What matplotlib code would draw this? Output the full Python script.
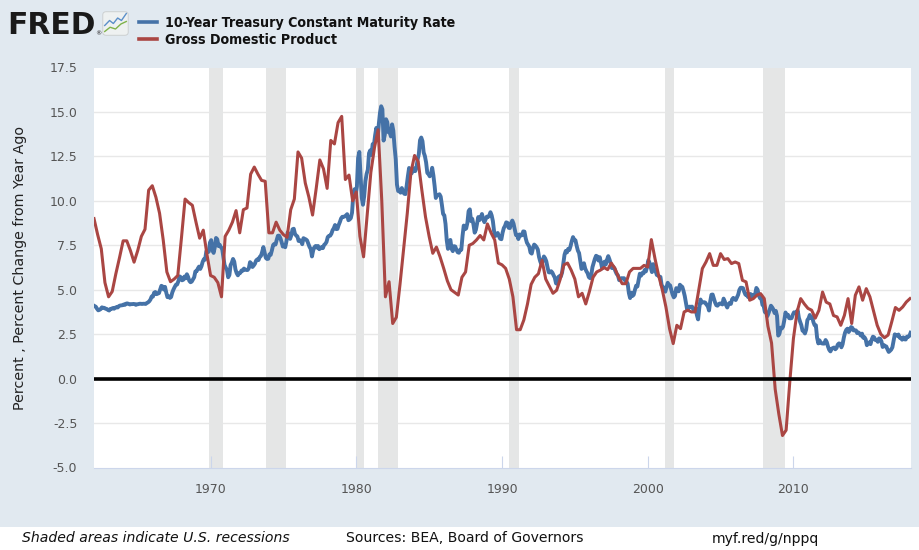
import numpy as np
import matplotlib
matplotlib.use("Agg")
import matplotlib.pyplot as plt
from matplotlib.lines import Line2D
from matplotlib.patches import Rectangle, FancyBboxPatch
from matplotlib.font_manager import FontProperties

# ---------------- data ----------------
# 10-Year Treasury Constant Maturity Rate, monthly, Jan 1962 - Jan 2018
dgs10 = [
    4.08, 4.04, 3.93, 3.84, 3.87, 3.91, 4.01, 3.98, 3.98, 3.93, 3.92, 3.86,   # 1962
    3.83, 3.92, 3.93, 3.97, 3.93, 3.99, 4.02, 4.00, 4.08, 4.11, 4.12, 4.13,   # 1963
    4.17, 4.15, 4.22, 4.23, 4.20, 4.17, 4.19, 4.19, 4.20, 4.19, 4.15, 4.18,   # 1964
    4.19, 4.21, 4.21, 4.20, 4.21, 4.21, 4.20, 4.25, 4.29, 4.35, 4.45, 4.62,   # 1965
    4.61, 4.83, 4.87, 4.75, 4.78, 4.81, 5.02, 5.22, 5.18, 5.01, 5.16, 4.84,   # 1966
    4.58, 4.63, 4.54, 4.59, 4.85, 5.02, 5.16, 5.28, 5.30, 5.48, 5.75, 5.70,   # 1967
    5.53, 5.56, 5.74, 5.64, 5.87, 5.72, 5.50, 5.42, 5.46, 5.58, 5.70, 6.03,   # 1968
    6.04, 6.19, 6.30, 6.17, 6.32, 6.57, 6.72, 6.69, 7.16, 7.10, 7.14, 7.65,   # 1969
    7.79, 7.24, 7.07, 7.39, 7.91, 7.84, 7.46, 7.53, 7.39, 7.33, 6.84, 6.39,   # 1970
    6.24, 6.11, 5.70, 5.83, 6.39, 6.52, 6.73, 6.58, 6.14, 5.93, 5.81, 5.93,   # 1971
    5.95, 6.08, 6.07, 6.19, 6.13, 6.11, 6.11, 6.21, 6.55, 6.48, 6.28, 6.36,   # 1972
    6.46, 6.64, 6.71, 6.67, 6.85, 6.90, 7.13, 7.40, 7.09, 6.79, 6.73, 6.74,   # 1973
    6.99, 6.96, 7.21, 7.51, 7.58, 7.54, 7.81, 8.04, 8.04, 7.90, 7.68, 7.43,   # 1974
    7.50, 7.39, 7.73, 8.23, 8.06, 7.86, 8.06, 8.40, 8.43, 8.14, 8.05, 8.00,   # 1975
    7.74, 7.79, 7.73, 7.56, 7.90, 7.86, 7.83, 7.77, 7.59, 7.41, 7.29, 6.87,   # 1976
    7.21, 7.39, 7.46, 7.37, 7.46, 7.28, 7.33, 7.40, 7.34, 7.52, 7.58, 7.69,   # 1977
    7.96, 8.03, 8.04, 8.15, 8.35, 8.46, 8.64, 8.41, 8.42, 8.64, 8.81, 9.01,   # 1978
    9.10, 9.10, 9.12, 9.18, 9.25, 8.91, 8.95, 9.03, 9.33, 10.30, 10.65, 10.39,  # 1979
    10.80, 12.41, 12.75, 11.47, 10.18, 9.78, 10.25, 11.10, 11.51, 11.75, 12.68, 12.84,  # 1980
    12.57, 13.19, 13.12, 13.68, 14.10, 13.47, 14.28, 14.94, 15.32, 15.15, 13.39, 13.72,  # 1981
    14.59, 14.43, 13.86, 13.87, 13.62, 14.30, 13.95, 13.06, 12.34, 10.91, 10.55, 10.54,  # 1982
    10.46, 10.72, 10.51, 10.40, 10.38, 10.85, 11.38, 11.85, 11.65, 11.54, 11.69, 11.83,  # 1983
    11.67, 11.84, 12.32, 12.63, 13.41, 13.56, 13.36, 12.72, 12.52, 12.16, 11.57, 11.50,  # 1984
    11.38, 11.51, 11.86, 11.43, 10.85, 10.16, 10.31, 10.33, 10.37, 10.24, 9.78, 9.26,    # 1985
    9.19, 8.70, 7.78, 7.30, 7.71, 7.80, 7.30, 7.17, 7.45, 7.43, 7.25, 7.11,   # 1986
    7.08, 7.25, 7.25, 8.02, 8.61, 8.40, 8.45, 8.76, 9.42, 9.52, 8.86, 8.99,   # 1987
    8.67, 8.21, 8.37, 8.72, 9.09, 8.92, 9.06, 9.26, 8.98, 8.80, 8.96, 9.11,   # 1988
    9.09, 9.17, 9.36, 9.18, 8.86, 8.28, 8.02, 8.11, 8.19, 8.01, 7.87, 7.84,   # 1989
    8.21, 8.47, 8.59, 8.79, 8.76, 8.48, 8.47, 8.75, 8.89, 8.72, 8.39, 8.08,   # 1990
    8.09, 7.85, 8.11, 8.04, 8.07, 8.28, 8.27, 7.90, 7.65, 7.53, 7.42, 7.09,   # 1991
    7.03, 7.34, 7.54, 7.48, 7.39, 7.26, 6.84, 6.59, 6.42, 6.59, 6.87, 6.77,   # 1992
    6.60, 6.26, 5.98, 5.97, 6.04, 5.96, 5.81, 5.68, 5.36, 5.33, 5.72, 5.77,   # 1993
    5.75, 5.97, 6.48, 6.97, 7.18, 7.10, 7.30, 7.24, 7.46, 7.74, 7.96, 7.81,   # 1994
    7.78, 7.47, 7.20, 7.06, 6.63, 6.17, 6.28, 6.49, 6.20, 6.04, 5.93, 5.71,   # 1995
    5.65, 5.81, 6.27, 6.51, 6.74, 6.91, 6.87, 6.64, 6.83, 6.53, 6.20, 6.30,   # 1996
    6.58, 6.42, 6.69, 6.89, 6.71, 6.49, 6.22, 6.30, 6.21, 6.03, 5.88, 5.81,   # 1997
    5.54, 5.57, 5.65, 5.64, 5.65, 5.50, 5.46, 5.34, 4.81, 4.53, 4.83, 4.65,   # 1998
    4.72, 5.00, 5.23, 5.18, 5.54, 5.90, 5.79, 5.94, 5.92, 6.11, 6.03, 6.28,   # 1999
    6.66, 6.52, 6.26, 5.99, 6.44, 6.10, 6.05, 5.83, 5.80, 5.74, 5.72, 5.24,   # 2000
    5.16, 5.10, 4.89, 5.14, 5.39, 5.28, 5.24, 4.97, 4.73, 4.57, 4.65, 5.09,   # 2001
    5.04, 4.91, 5.28, 5.21, 5.16, 4.93, 4.65, 4.26, 3.87, 3.94, 4.05, 4.03,   # 2002
    4.05, 3.90, 3.81, 3.96, 3.57, 3.33, 3.98, 4.45, 4.27, 4.29, 4.30, 4.27,   # 2003
    4.15, 4.08, 3.83, 4.35, 4.72, 4.73, 4.50, 4.28, 4.13, 4.10, 4.19, 4.23,   # 2004
    4.22, 4.17, 4.50, 4.34, 4.14, 4.00, 4.18, 4.26, 4.20, 4.46, 4.54, 4.47,   # 2005
    4.42, 4.57, 4.72, 4.99, 5.11, 5.11, 5.09, 4.88, 4.72, 4.73, 4.60, 4.56,   # 2006
    4.76, 4.72, 4.56, 4.69, 4.75, 5.10, 5.00, 4.67, 4.52, 4.53, 4.15, 4.10,   # 2007
    3.74, 3.74, 3.51, 3.68, 3.88, 4.10, 4.01, 3.89, 3.69, 3.81, 3.53, 2.42,   # 2008
    2.52, 2.87, 2.82, 2.93, 3.29, 3.72, 3.56, 3.59, 3.40, 3.39, 3.40, 3.59,   # 2009
    3.73, 3.69, 3.73, 3.85, 3.42, 3.20, 3.01, 2.70, 2.65, 2.54, 2.76, 3.29,   # 2010
    3.39, 3.58, 3.41, 3.46, 3.17, 3.00, 3.00, 2.30, 1.98, 2.15, 2.01, 1.98,   # 2011
    1.97, 1.97, 2.17, 2.05, 1.80, 1.62, 1.53, 1.68, 1.72, 1.75, 1.65, 1.72,   # 2012
    1.91, 1.98, 1.96, 1.76, 1.93, 2.30, 2.58, 2.74, 2.81, 2.62, 2.72, 2.90,   # 2013
    2.86, 2.71, 2.72, 2.71, 2.56, 2.60, 2.54, 2.42, 2.53, 2.30, 2.33, 2.21,   # 2014
    1.88, 1.98, 2.04, 1.94, 2.20, 2.36, 2.32, 2.17, 2.17, 2.07, 2.26, 2.24,   # 2015
    2.09, 1.78, 1.89, 1.81, 1.81, 1.64, 1.50, 1.56, 1.63, 1.76, 2.14, 2.49,   # 2016
    2.43, 2.42, 2.48, 2.30, 2.30, 2.19, 2.32, 2.21, 2.20, 2.36, 2.35, 2.40,   # 2017
    2.58,                                                                     # 2018
]
dgs10_start = 1962.0

# Gross Domestic Product, percent change from year ago, quarterly 1962Q1 - 2018Q1
gdp_yoy = [
    9.0, 8.1, 7.3, 5.4,        # 1962
    4.6, 4.9, 5.9, 6.8,        # 1963
    7.75, 7.75, 7.2, 6.55,     # 1964
    7.2, 8.0, 8.4, 10.6,       # 1965
    10.85, 10.2, 9.3, 7.8,     # 1966
    6.0, 5.45, 5.6, 5.8,       # 1967
    7.9, 10.1, 9.9, 9.75,      # 1968
    8.8, 7.9, 8.35, 7.0,       # 1969
    5.8, 5.7, 5.4, 4.6,        # 1970
    8.0, 8.35, 8.8, 9.45,      # 1971
    8.2, 9.5, 9.6, 11.5,       # 1972
    11.9, 11.5, 11.15, 11.1,   # 1973
    8.2, 8.2, 8.8, 8.35,       # 1974
    8.1, 7.95, 9.5, 10.1,      # 1975
    12.75, 12.4, 11.0, 10.2,   # 1976
    9.2, 10.7, 12.3, 11.8,     # 1977
    10.7, 13.4, 13.2, 14.4,    # 1978
    14.75, 11.2, 11.45, 10.0,  # 1979
    10.5, 8.0, 6.85, 9.2,      # 1980
    11.6, 13.0, 14.0, 10.0,    # 1981
    4.6, 5.45, 3.1, 3.45,      # 1982
    5.3, 7.3, 9.3, 11.6,       # 1983
    12.55, 12.2, 10.6, 9.1,    # 1984
    8.0, 7.05, 7.4, 6.85,      # 1985
    6.2, 5.5, 5.0, 4.85,       # 1986
    4.7, 5.7, 6.0, 7.5,        # 1987
    7.6, 7.8, 8.05, 7.8,       # 1988
    8.7, 8.2, 7.8, 6.5,        # 1989
    6.4, 6.2, 5.6, 4.6,        # 1990
    2.75, 2.75, 3.3, 4.2,      # 1991
    5.3, 5.7, 5.9, 6.65,       # 1992
    5.6, 5.2, 4.8, 4.97,       # 1993
    5.6, 6.4, 6.5, 6.1,        # 1994
    5.6, 4.6, 4.8, 4.2,        # 1995
    4.9, 5.7, 6.0, 6.1,        # 1996
    6.25, 6.13, 6.5, 6.2,      # 1997
    5.7, 5.34, 5.34, 6.0,      # 1998
    6.2, 6.2, 6.2, 6.37,       # 1999
    6.28, 7.82, 6.75, 5.8,     # 2000
    5.0, 4.03, 2.81, 1.97,     # 2001
    3.0, 2.81, 3.75, 3.85,     # 2002
    3.75, 3.75, 4.97, 6.19,    # 2003
    6.56, 7.03, 6.37, 6.37,    # 2004
    7.03, 6.7, 6.75, 6.47,     # 2005
    6.56, 6.47, 5.53, 5.44,    # 2006
    4.41, 4.5, 4.7, 4.78,      # 2007
    4.5, 2.95, 2.0, -0.6,      # 2008
    -2.0, -3.2, -2.9, -0.2,    # 2009
    2.25, 3.75, 4.5, 4.2,      # 2010
    3.95, 3.85, 3.4, 3.84,     # 2011
    4.87, 4.3, 4.2, 3.55,      # 2012
    3.47, 3.0, 3.56, 4.5,      # 2013
    3.1, 4.69, 5.16, 4.41,     # 2014
    5.06, 4.6, 3.8, 3.0,       # 2015
    2.5, 2.3, 2.45, 3.2,       # 2016
    4.0, 3.84, 4.03, 4.31,     # 2017
    4.5,                       # 2018
]
gdp_start = 1962.0

# NBER recessions (decimal years)
rec_start = [1969 + 11/12, 1973 + 10/12, 1980.0, 1981 + 6/12, 1990 + 6/12, 2001 + 2/12, 2007 + 11/12]
rec_end   = [1970 + 10/12, 1975 + 2/12, 1980 + 6/12, 1982 + 10/12, 1991 + 2/12, 2001 + 10/12, 2009 + 5/12]

series_names = ["10-Year Treasury Constant Maturity Rate", "Gross Domestic Product"]
y_ticks = [-5.0, -2.5, 0.0, 2.5, 5.0, 7.5, 10.0, 12.5, 15.0, 17.5]
x_ticks = [1970, 1980, 1990, 2000, 2010]
y_label = "Percent , Percent Change from Year Ago"
footer = ["Shaded areas indicate U.S. recessions", "Sources: BEA, Board of Governors", "myf.red/g/nppq"]

# ---------------- style ----------------
BLUE = "#4572a7"
RED = "#aa4643"
BG = "#e1e9f0"
SHADE = "#e5e6e6"

plt.rcParams["font.family"] = ["DejaVu Sans"]

W, H = 919, 550
fig = plt.figure(figsize=(W / 100, H / 100), dpi=100, facecolor=BG)


def fx(px):
    return px / W


def fy(py):
    return 1 - py / H


renderer = fig.canvas.get_renderer()


def fit(t, target, vertical=False):
    bb = t.get_window_extent(renderer)
    size = bb.height if vertical else bb.width
    t.set_fontsize(t.get_fontsize() * target / size)


# footer white band
fig.add_artist(Rectangle((0, 0), 1, fy(526.7), transform=fig.transFigure,
                         facecolor="white", edgecolor="none", zorder=0))

ax = fig.add_axes([fx(94), fy(467.5), fx(911) - fx(94), fy(67.5) - fy(467.5)])
ax.set_facecolor("white")
ax.set_xlim(1962.0, 2018.07)
ax.set_ylim(-5, 17.5)

for s, e in zip(rec_start, rec_end):
    ax.axvspan(s, e, color=SHADE, lw=0, zorder=1)

for yv in y_ticks[1:-1]:
    ax.axhline(yv, color="#e8e8e8", lw=1.0, zorder=0.5)

tx = dgs10_start + (np.arange(len(dgs10)) + 0.5) / 12
gx = gdp_start + np.arange(len(gdp_yoy)) * 0.25
ax.plot(tx, dgs10, color=BLUE, lw=2.8, zorder=3, solid_joinstyle="round")
ax.plot(gx, gdp_yoy, color=RED, lw=2.2, zorder=3.5, solid_joinstyle="round")
ax.axhline(0, color="black", lw=2.6, zorder=4)

for sp in ["top", "left", "right"]:
    ax.spines[sp].set_visible(False)
ax.spines["bottom"].set_color("#ccd6eb")
ax.spines["bottom"].set_linewidth(0.8)

ax.set_yticks(y_ticks)
ax.set_yticklabels([f"{v:.1f}" for v in y_ticks])
ax.set_xticks(x_ticks)
ax.set_xticklabels([str(v) for v in x_ticks])
ax.tick_params(axis="y", length=0, pad=12, labelsize=9, labelcolor="#555555")
ax.tick_params(axis="x", direction="in", length=9, width=0.8, color="#ccd6eb",
               pad=11, labelsize=9, labelcolor="#555555")

# y label
yl = fig.text(fx(20), fy(267.5), y_label, rotation=90, ha="center", va="center",
              fontsize=10, color="#222222")
fit(yl, 285, vertical=True)

# FRED logo
fred = fig.text(fx(7), fy(34), "FRED", ha="left", va="baseline", fontsize=22,
                fontweight="heavy", color="#1a1a1a")
fit(fred, 88)
fig.text(fx(95), fy(35), "®", ha="left", va="baseline", fontsize=4.5, color="#231f20")

icon = fig.add_axes([fx(102), fy(36), 27 / W, 25 / H])
icon.set_xlim(0, 1)
icon.set_ylim(0, 1)
icon.axis("off")
icon.add_patch(FancyBboxPatch((0.03, 0.03), 0.94, 0.94, boxstyle="round,pad=0,rounding_size=0.12",
                              facecolor="#eef1f1", edgecolor="#c9cccc", lw=0.6))
icon.plot([0.1, 0.28, 0.42, 0.58, 0.72, 0.9], [0.42, 0.62, 0.5, 0.72, 0.62, 0.9],
          color="#5b8fc9", lw=1.0)
icon.plot([0.1, 0.3, 0.5, 0.7, 0.9], [0.18, 0.35, 0.28, 0.48, 0.58],
          color="#7fb24a", lw=1.0)

# legend
bold_c = FontProperties(family="DejaVu Sans", weight="bold", stretch="condensed", size=10)
fig.add_artist(Line2D([fx(139), fx(157)], [fy(21.7)] * 2, color=BLUE, lw=2.6))
fig.add_artist(Line2D([fx(139), fx(157)], [fy(39.3)] * 2, color=RED, lw=2.6))
l1 = fig.text(fx(165), fy(22.5), series_names[0], ha="left", va="center",
              fontproperties=bold_c, color="#111111")
fit(l1, 290)
l2 = fig.text(fx(165), fy(40), series_names[1], ha="left", va="center",
              fontproperties=bold_c.copy(), color="#111111")
l2.set_fontsize(l1.get_fontsize())

# footer texts
f1 = fig.text(fx(22), fy(538.5), footer[0], ha="left", va="center", fontsize=9.5,
              style="italic", color="#111111")
fit(f1, 268)
f2 = fig.text(fx(346), fy(538.5), footer[1], ha="left", va="center",
              fontsize=f1.get_fontsize(), color="#111111")
f3 = fig.text(fx(712), fy(538.5), footer[2], ha="left", va="center",
              fontsize=f1.get_fontsize(), color="#111111")

fig.savefig("out.png", dpi=100, facecolor=fig.get_facecolor())
